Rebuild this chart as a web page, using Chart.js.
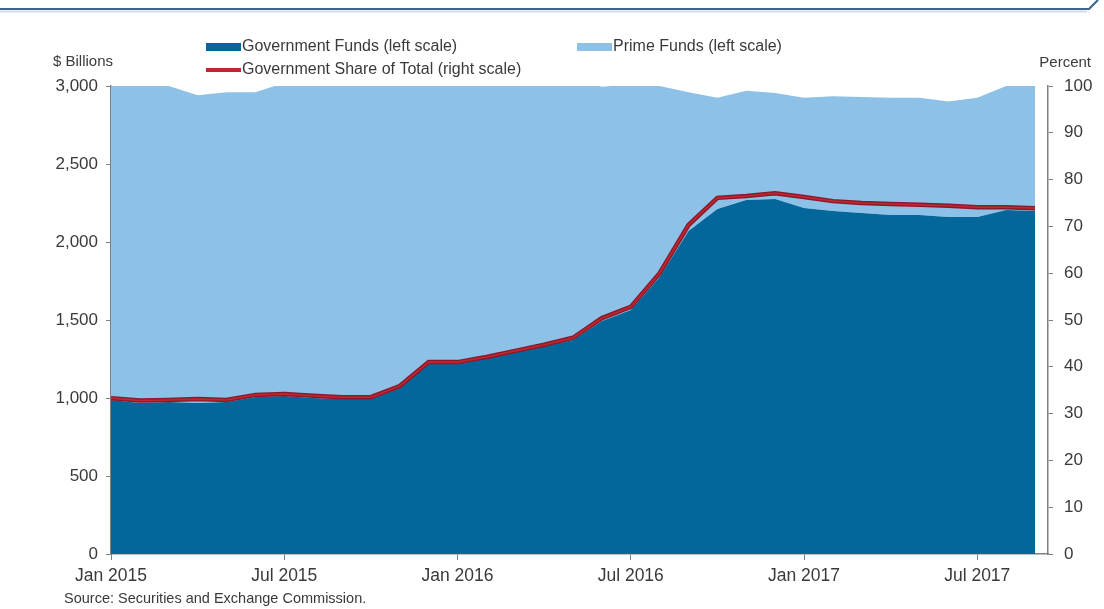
<!DOCTYPE html>
<html>
<head>
<meta charset="utf-8">
<script src="https://cdn.jsdelivr.net/npm/chart.js@4.4.0/dist/chart.umd.min.js"></script>
<style>
html, body { margin: 0; padding: 0; background: #fff; }
#wrap { position: relative; width: 1104px; height: 609px; }
</style>
</head>
<body>
<div id="wrap"><canvas id="mmfChart" width="1104" height="609"></canvas></div>
<script>
// --- DATA (monthly, Jan 2015 - Sep 2017) ---
const MONTHS = [
    'Jan 2015','Feb 2015','Mar 2015','Apr 2015','May 2015','Jun 2015','Jul 2015','Aug 2015','Sep 2015','Oct 2015','Nov 2015','Dec 2015',
    'Jan 2016','Feb 2016','Mar 2016','Apr 2016','May 2016','Jun 2016','Jul 2016','Aug 2016','Sep 2016','Oct 2016','Nov 2016','Dec 2016',
    'Jan 2017','Feb 2017','Mar 2017','Apr 2017','May 2017','Jun 2017','Jul 2017','Aug 2017','Sep 2017'
];
// $ billions
const GOV_FUNDS = [987, 968, 974, 968, 974, 1006, 1013, 1000, 994, 994, 1064, 1224,
    1218, 1269, 1301, 1333, 1372, 1494, 1564, 1776, 2071, 2212, 2269, 2276,
    2218, 2199, 2186, 2173, 2173, 2160, 2160, 2205, 2199];
const PRIME_FUNDS = [2063, 2072, 2026, 1972, 1986, 1954, 2007, 2050, 2056, 2066, 1996, 1846,
    1852, 1791, 1759, 1727, 1688, 1501, 1446, 1224, 889, 713, 701, 679,
    707, 736, 744, 752, 752, 740, 765, 795, 811];
// percent
const GOV_SHARE = [33.3, 32.8, 32.9, 33.1, 32.9, 34.0, 34.2, 33.8, 33.5, 33.5, 35.9, 41.0,
    41.0, 42.1, 43.4, 44.7, 46.2, 50.4, 52.8, 60.0, 70.3, 76.1, 76.5, 77.1,
    76.3, 75.4, 75.0, 74.8, 74.6, 74.4, 74.1, 74.1, 73.9];

const TICK_POS = [0, 6, 12, 18, 24, 30];
const TICK_LABELS = ['Jan 2015', 'Jul 2015', 'Jan 2016', 'Jul 2016', 'Jan 2017', 'Jul 2017'];

const LEFT_TITLE = '$ Billions';
const RIGHT_TITLE = 'Percent';
const SOURCE = 'Source: Securities and Exchange Commission.';

// --- STYLE ---
const FONT = '"Liberation Sans", Arial, sans-serif';
const COL_GOV = '#04679b';
const COL_PRIME = '#8dc1e7';
const COL_SHARE = '#8a1a2a';
const COL_SHARE_IN = '#c22630';
const COL_TEXT = '#3a3a3a';
const COL_AXIS = '#808080';

const toXY = arr => arr.map((v, i) => ({ x: i, y: v }));

// legend + titles + frame
const decorPlugin = {
    id: 'decor',
    afterDatasetsDraw(chart) {
        // red line : lighter core over the dark stroke
        const meta = chart.getDatasetMeta(2);
        const ctx = chart.ctx;
        ctx.save();
        ctx.beginPath();
        meta.data.forEach((p, i) => { if (i === 0) ctx.moveTo(p.x, p.y); else ctx.lineTo(p.x, p.y); });
        ctx.strokeStyle = COL_SHARE_IN;
        ctx.lineWidth = 1.6;
        ctx.lineJoin = 'round';
        ctx.stroke();
        ctx.restore();
    },
    afterDraw(chart, args, opts) {
        const ctx = chart.ctx;
        ctx.save();

        // top frame
        ctx.strokeStyle = '#3d6690';
        ctx.lineWidth = 2.2;
        ctx.beginPath();
        ctx.moveTo(0, 9); ctx.lineTo(1089, 9); ctx.lineTo(1098, 0);
        ctx.stroke();
        ctx.strokeStyle = 'rgba(61,102,144,0.22)';
        ctx.lineWidth = 2;
        ctx.beginPath();
        ctx.moveTo(0, 11.5); ctx.lineTo(1087, 11.5);
        ctx.stroke();

        // axis titles
        ctx.fillStyle = COL_TEXT;
        ctx.font = '15px ' + FONT;
        ctx.textBaseline = 'middle';
        ctx.textAlign = 'left';
        ctx.fillText(LEFT_TITLE, 53, 62);
        ctx.textAlign = 'right';
        ctx.fillText(RIGHT_TITLE, 1091, 63);

        // legend
        ctx.font = '16px ' + FONT;
        ctx.textAlign = 'left';
        opts.items.forEach(it => {
            const ds = chart.data.datasets[it.ds];
            ctx.fillStyle = it.line ? COL_SHARE_IN : ds.backgroundColor;
            const h = it.line ? 4 : 8;
            ctx.fillRect(it.x, it.y - h / 2, 35, h);
            ctx.fillStyle = COL_TEXT;
            ctx.fillText(ds.label, it.x + 36, it.y);
        });

        // source
        ctx.font = '14.5px ' + FONT;
        ctx.fillText(SOURCE, 64, 599);
        ctx.restore();
    }
};

const ctx = document.getElementById('mmfChart').getContext('2d');
new Chart(ctx, {
    type: 'line',
    data: {
        datasets: [
            { label: 'Government Funds (left scale)', data: toXY(GOV_FUNDS), yAxisID: 'y', stack: 'funds',
              backgroundColor: COL_GOV, borderColor: COL_GOV, borderWidth: 0, fill: 'origin', pointRadius: 0, tension: 0, order: 2, clip: 0 },
            { label: 'Prime Funds (left scale)', data: toXY(PRIME_FUNDS), yAxisID: 'y', stack: 'funds',
              backgroundColor: COL_PRIME, borderColor: COL_PRIME, borderWidth: 0, fill: '-1', pointRadius: 0, tension: 0, order: 3, clip: 0 },
            { label: 'Government Share of Total (right scale)', data: toXY(GOV_SHARE), yAxisID: 'y1',
              borderColor: COL_SHARE, backgroundColor: COL_SHARE, borderWidth: 4.5, fill: false, pointRadius: 0, tension: 0, order: 1 }
        ]
    },
    options: {
        responsive: false,
        devicePixelRatio: 1,
        animation: false,
        layout: { padding: { top: 86, left: 0, right: 0, bottom: 0 } },
        plugins: {
            legend: { display: false },
            tooltip: { enabled: false },
            decor: {
                items: [
                    { ds: 0, x: 206, y: 47 },
                    { ds: 1, x: 577, y: 47 },
                    { ds: 2, x: 206, y: 70, line: true }
                ]
            }
        },
        scales: {
            x: {
                type: 'linear', min: 0, max: 32.45,
                afterBuildTicks: s => { s.ticks = TICK_POS.map(v => ({ value: v })); },
                afterFit: s => { s.height = 55; },
                ticks: { callback: (v, i) => TICK_LABELS[i], autoSkip: false, maxRotation: 0, color: COL_TEXT, font: { family: FONT, size: 17.5 }, padding: 6 },
                grid: { drawOnChartArea: false, tickLength: 6, color: COL_AXIS },
                border: { color: COL_AXIS, width: 1.5 }
            },
            y: {
                stacked: true, position: 'left', min: 0, max: 3000,
                afterFit: s => { s.width = 111; },
                ticks: { stepSize: 500, callback: v => v.toLocaleString('en-US'), color: COL_TEXT, font: { family: FONT, size: 17 }, padding: 8 },
                grid: { drawOnChartArea: false, tickLength: 5, color: COL_AXIS },
                border: { color: COL_AXIS, width: 1.5 }
            },
            y1: {
                position: 'right', min: 0, max: 100,
                afterFit: s => { s.width = 56; },
                ticks: { stepSize: 10, color: COL_TEXT, font: { family: FONT, size: 17 }, padding: 11 },
                grid: { drawOnChartArea: false, tickLength: 5, color: COL_AXIS },
                border: { color: COL_AXIS, width: 1.5 }
            }
        }
    },
    plugins: [decorPlugin]
});
</script>
</body>
</html>
